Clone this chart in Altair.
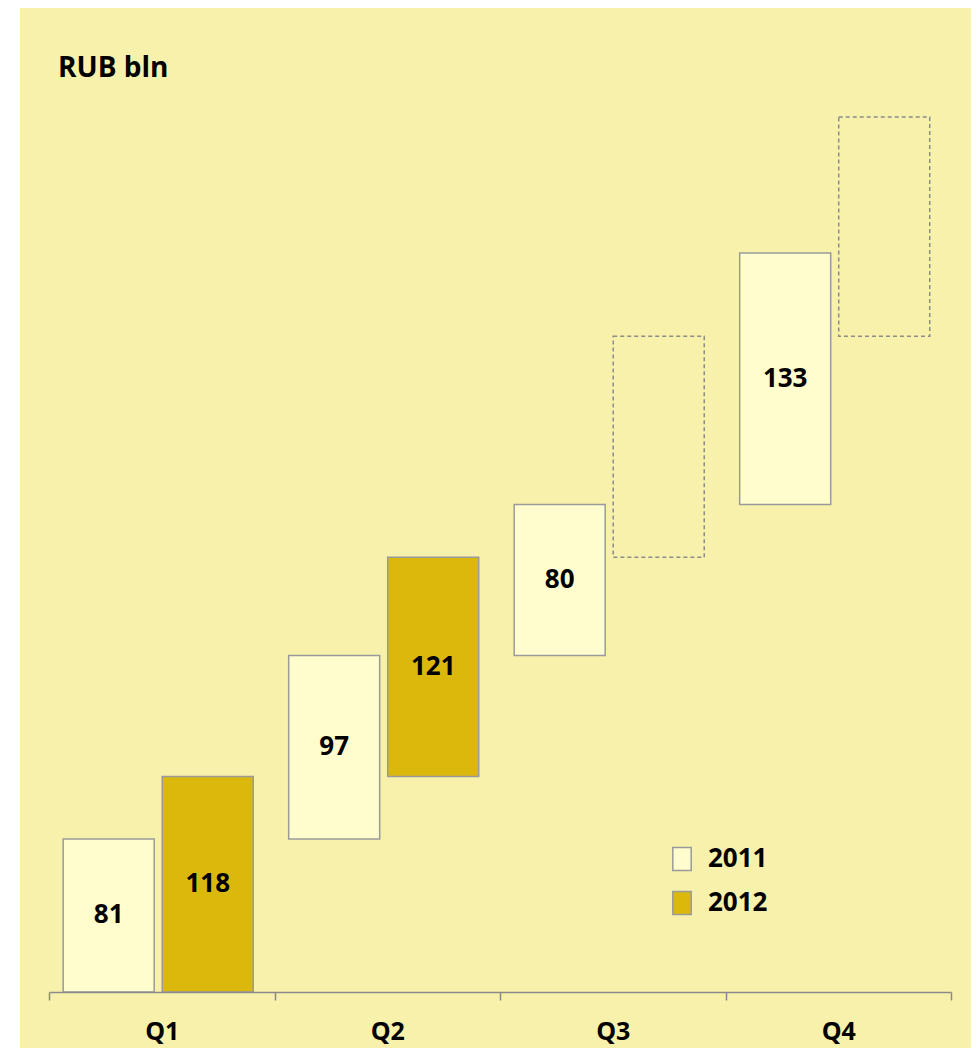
import altair as alt
import pandas as pd

# ---- data ----
quarters = ["Q1", "Q2", "Q3", "Q4"]
years = ["2011", "2012"]
values_2011 = [81, 97, 80, 133]
labels_2012 = ["118", "121", "", ""]
# 2012 bars as drawn (start / end levels, same units as 2011)
start_2012 = [0, 114, 230, 347]
end_2012 = [114, 230, 347, 463]
forecast_2012 = [False, False, True, True]

rows = []
level = 0
for q, v in zip(quarters, values_2011):
    rows.append({"quarter": q, "year": "2011", "start": level, "end": level + v,
                 "label": str(v), "forecast": False})
    level += v
for q, s, e, lab, fc in zip(quarters, start_2012, end_2012, labels_2012, forecast_2012):
    rows.append({"quarter": q, "year": "2012", "start": s, "end": e,
                 "label": lab, "forecast": fc})
df = pd.DataFrame(rows)

W, H = 902, 892
FONT = "Open Sans"
BG = "#F7F1AB"
C2011 = "#FFFDCD"
C2012 = "#DBB80C"

x_enc = alt.X("quarter:N", sort=quarters, title=None,
              scale=alt.Scale(paddingInner=0, paddingOuter=0),
              axis=alt.Axis(labelAngle=0, labelFont=FONT, labelFontSize=25,
                            labelFontWeight="bold", labelColor="black",
                            domainColor="#8a8a8a", domainWidth=1.5,
                            tickColor="#8a8a8a", tickWidth=1.5, tickSize=8,
                            tickBand="extent", labelPadding=19, grid=False,
                            zindex=1))
xo_enc = alt.XOffset("year:N", sort=years,
                     scale=alt.Scale(paddingInner=0.081, paddingOuter=0.179, align=0.4))
y_scale = alt.Scale(domain=[0, 472], nice=False, zero=True)

base = alt.Chart(df)

background = alt.Chart(alt.Data(values=[{}])).mark_rect(color=BG).encode(
    x=alt.value(-29), x2=alt.value(W + 40), y=alt.value(-100), y2=alt.value(H + 80)
)

bars = base.transform_filter("!datum.forecast").mark_bar(
    stroke="#9a9a9a", strokeWidth=1.5
).encode(
    x=x_enc,
    xOffset=xo_enc,
    y=alt.Y("start:Q", scale=y_scale, axis=None),
    y2="end:Q",
    fill=alt.Fill("year:N", sort=years,
                  scale=alt.Scale(domain=years, range=[C2011, C2012]),
                  legend=alt.Legend(orient="none", legendX=620, legendY=746,
                                    title=None, padding=0,
                                    symbolType="M-0.8,-1H0.8V1H-0.8Z",
                                    symbolSize=529, symbolStrokeColor="#9a9a9a",
                                    symbolStrokeWidth=1.5, symbolOpacity=1,
                                    labelFont=FONT, labelFontSize=26,
                                    labelFontWeight="bold", labelColor="black",
                                    labelOffset=13, rowPadding=14, zindex=1)),
)

forecast = base.transform_filter("datum.forecast").mark_bar(
    fillOpacity=0, stroke="#8c8c8c", strokeWidth=1.5, strokeDash=[4, 3]
).encode(
    x=x_enc,
    xOffset=xo_enc,
    y=alt.Y("start:Q", scale=y_scale, axis=None),
    y2="end:Q",
)

labels = base.transform_filter("datum.label != ''").transform_calculate(
    mid="(datum.start + datum.end) / 2"
).mark_text(font=FONT, fontSize=26, fontWeight="bold", color="black",
            baseline="middle", align="center").encode(
    x=x_enc,
    xOffset=xo_enc,
    y=alt.Y("mid:Q", scale=y_scale, axis=None),
    text="label:N",
)

title = alt.Chart(alt.Data(values=[{"t": "RUB bln"}])).mark_text(
    font=FONT, fontSize=28, fontWeight="bold", color="black",
    align="left", baseline="alphabetic"
).encode(x=alt.value(9), y=alt.value(-23), text="t:N")

chart = alt.layer(background, bars, forecast, labels, title).properties(
    width=W, height=H,
    autosize=alt.AutoSizeParams(type="none"),
    padding={"left": 41, "top": 92, "right": 20, "bottom": 56},
    background="white",
).configure_view(stroke=None)

chart.save("out.html", embed_options={"renderer": "svg", "actions": False})
